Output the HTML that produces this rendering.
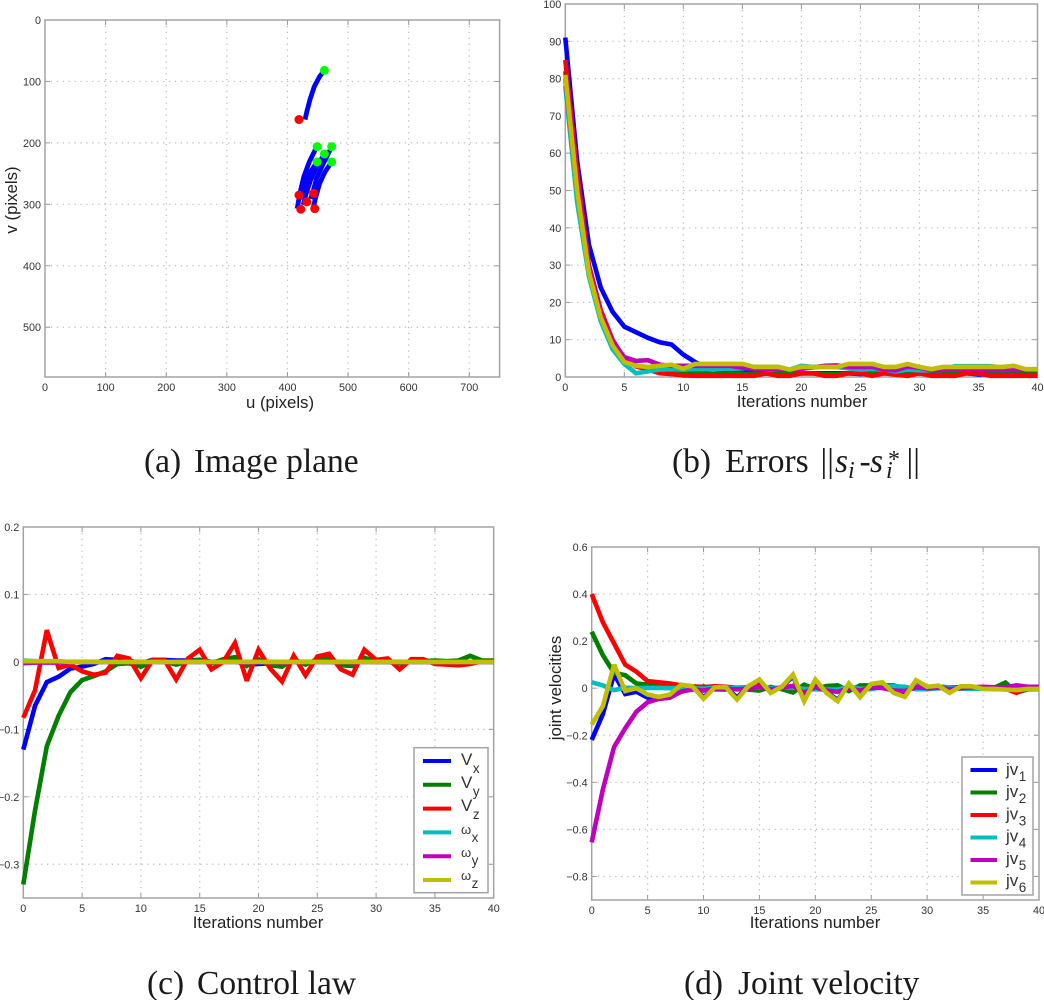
<!DOCTYPE html>
<html lang="en">
<head>
<meta charset="utf-8">
<title>Visual servoing results</title>
<style>
html,body{margin:0;padding:0;background:#fff;}
#figure{display:block;width:1044px;height:1000px;filter:blur(0.35px);}
text{font-family:"Liberation Sans",sans-serif;fill:#333;}
.tick{font-size:10.8px;}
.axis-title{font-size:16.8px;fill:#222;}
.caption{font-family:"Liberation Serif",serif;font-size:33.5px;fill:#1a1a1a;}
.caption tspan{font-family:"Liberation Serif",serif;}
.legend-text{font-size:17px;}
.legend-omega{font-size:13px;}
.legend-sub{font-size:13.5px;}
</style>
</head>
<body>
<svg id="figure" xmlns="http://www.w3.org/2000/svg" width="1044" height="1000" viewBox="0 0 1044 1000">
  <text class="caption" y="472"><tspan x="144">(a)</tspan><tspan x="194">Image plane</tspan></text>
  <text class="caption" y="472"><tspan x="672">(b)</tspan><tspan x="725">Errors</tspan><tspan x="820.5">||</tspan><tspan x="835" font-style="italic">s</tspan><tspan x="848" y="478" font-style="italic" font-size="24">i</tspan><tspan x="859.5" y="472">-</tspan><tspan x="870" font-style="italic">s</tspan><tspan x="886" y="478" font-style="italic" font-size="24">i</tspan><tspan x="888" y="467" font-size="24">*</tspan><tspan x="906.5" y="472">||</tspan></text>
  <text class="caption" y="994"><tspan x="147">(c)</tspan><tspan x="197">Control law</tspan></text>
  <text class="caption" y="994"><tspan x="684">(d)</tspan><tspan x="738">Joint velocity</tspan></text>
</svg>
<script>
// ---------- Panel (a): image plane data ----------
const uTicks = [0,100,200,300,400,500,600,700];
const vTicks = [0,100,200,300,400,500];
const trajU1 = [461,453,444,437,432,429];
const trajV1 = [82,92,109,130,149,162];
const trajU2 = [447,436,427,421,416];
const trajV2 = [209,231,255,280,307];
const trajU3 = [470,458,448,442,438];
const trajV3 = [212,236,258,280,291];
const trajU4 = [461,448,438,431,426];
const trajV4 = [218,239,261,282,301];
const trajU5 = [449,438,431,424,420];
const trajV5 = [231,247,263,280,291];
const trajU6 = [473,462,453,446,442];
const trajV6 = [231,247,266,291,308];
const startU = [461,449,473,461,449,473];
const startV = [82,206,206,218,231,231];
const endU = [419,419,443,432,422,445];
const endV = [162,285,282,296,308,307];

// ---------- Panel (b): errors ----------
const iterTicks = [0,5,10,15,20,25,30,35,40];
const errTicks = [0,10,20,30,40,50,60,70,80,90,100];
const err1 = [91,58,35.5,24,17.5,13.5,12,10.5,9.3,8.7,6,4,2.5,2,1.5,1.2,1.5,1,0.6,1,1,1,1,1,1,0.8,1,1,1,1,1,0.6,1,1,1,0.7,0.7,0.7,1,0.7,0.7];
const err2 = [82,52,29,17,9,4.5,3,2.4,2,1.6,1.2,1,1,0.8,0.8,0.8,0.9,0.9,1,1,1,1,0.8,0.8,1,1,0.9,1,1,1.2,1,1,1,1,1,0.9,0.9,0.9,1,1,1];
const err3 = [85,55,30,18,10,5,2.8,2,1,0.8,0.4,0.3,0.3,0.3,0.3,0.3,0.3,1,0.3,0.3,1,1,0.3,0.3,1,1,0.3,1,0.6,0.3,1,0.3,0.3,0.3,1,1,0.3,0.3,0.3,0.3,0.3];
const err4 = [78,47,27,15,7.5,3.5,1,1.5,2,2.1,2,2.2,2.2,2.2,2.2,2.3,2.7,2.7,2.7,2,3,2.7,2.7,2.7,2.3,2,2.2,2,1.5,2,1.8,1.8,2,2.9,2.9,2.9,2.9,2.5,2.5,2,2];
const err5 = [80,50,29,17,9.5,5.3,4.3,4.5,3.3,3,3,3,3,3,3,2.5,2.2,2.2,2.2,2,2.2,2.6,3,3.1,2.7,2.7,2.7,2,1.8,2.8,2.5,1.8,1.9,2,2,1.9,1.9,1.9,1.9,1.9,1.9];
const err6 = [81,50,28,16,8.5,4,3,2.7,3,3.3,2.2,3.5,3.5,3.5,3.5,3.5,2.7,2.7,2.7,2,2.7,2.7,2.7,2.7,3.5,3.5,3.5,2.7,2.7,3.5,2.7,2.1,2.7,2.7,2.7,2.7,2.7,2.7,3,2.1,2.1];

// ---------- Panel (c): control law ----------
const ctrlTicks = [-0.3,-0.2,-0.1,0,0.1,0.2];
const ctrlVx = [-0.13,-0.065,-0.03,-0.022,-0.01,-0.007,-0.003,0.004,0.003,0.002,-0.002,0.003,0.003,0.002,0.002,0.003,0,0.001,0.001,-0.004,-0.003,-0.002,-0.003,0,0,0,0,-0.001,0,0.001,0,0,0,0,0,0,-0.001,-0.003,0,0,0];
const ctrlVy = [-0.33,-0.22,-0.125,-0.08,-0.045,-0.027,-0.021,-0.014,-0.003,-0.002,-0.007,0.001,0.001,-0.004,0.001,0.003,-0.002,0.004,0.007,-0.006,0.004,-0.005,-0.007,0.004,-0.004,0.004,0.005,-0.005,-0.006,0.006,0.001,0,-0.002,0.001,0.001,0.002,0.001,0.002,0.009,0.002,0.002];
const ctrlVz = [-0.083,-0.042,0.047,-0.009,-0.004,-0.014,-0.019,-0.016,0.009,0.005,-0.024,0.003,0.003,-0.026,0.005,0.018,-0.011,0,0.028,-0.028,0.018,-0.01,-0.029,0.009,-0.02,0.008,0.012,-0.011,-0.019,0.018,0.003,0.005,-0.011,0.004,0.004,-0.003,-0.004,-0.005,-0.003,0.001,0.001];
const ctrlWx = [0.002,0.001,0,0,0,0,0,0,0,0,0,0,0,0,0,0,0,0,0,0,0,0,0,0,0,0,0,0,0,0,0,0,0,0,0,0,0,0,0,0,0];
const ctrlWy = [-0.002,-0.001,-0.001,-0.001,0,0,0,0,0,0,0,0,0,0,0,0,0,0,0,-0.001,0,0,-0.001,0,0,0,0,0,-0.001,0,0,0,0,0,0,0,0,0,0,0,0];
const ctrlWz = [0.001,0.001,0.001,0.001,0,0,0,0,0,0,0,0,0,0,0,0,0,0,0,0,0,0,0,0,0,0,0,0,0,0,0,0,0,0,0,0,0,0,0,0,0];

// ---------- Panel (d): joint velocities ----------
const jvTicks = [-0.8,-0.6,-0.4,-0.2,0,0.2,0.4,0.6];
const jv1 = [-0.22,-0.11,0.06,-0.025,-0.015,-0.04,-0.045,-0.04,0.012,0.008,-0.04,0.004,0.004,-0.04,0.008,0.03,-0.015,0.006,0.05,-0.05,0.03,-0.017,-0.05,0.017,-0.032,0.016,0.022,-0.017,-0.032,0.03,0.005,0.009,-0.017,0.007,0.007,-0.002,-0.003,-0.005,-0.007,-0.003,-0.003];
const jv2 = [0.24,0.14,0.065,0.055,0.02,0.015,0.015,0.01,-0.005,-0.004,0.008,-0.005,-0.006,0,-0.006,-0.01,0.005,-0.004,-0.018,0.015,-0.004,0.009,0.012,-0.012,0.012,0.012,0.012,0.012,-0.002,0.003,0.003,0.006,0.004,0.004,0.004,0.002,0.002,0.024,-0.018,-0.005,-0.004];
const jv3 = [0.4,0.28,0.19,0.1,0.07,0.03,0.025,0.02,0.012,0.008,0.005,0.008,0.006,0.002,0.004,0.012,-0.003,0.004,0.008,-0.005,0.004,-0.006,-0.01,0.003,-0.004,0.004,0.005,-0.004,-0.006,0.005,0.002,0.002,-0.002,0.002,0.002,0,0,-0.002,-0.02,0.006,0.006];
const jv4 = [0.025,0.012,-0.008,0.002,0,0.001,0.001,0,0.001,0,-0.002,0.002,0.002,0,0.002,0.003,0,0.002,0.003,-0.003,-0.005,-0.006,-0.006,0.006,-0.002,-0.004,0.006,0.008,0.006,-0.004,-0.004,0,0.004,-0.002,-0.002,-0.002,0,0,0,0,0];
const jv5 = [-0.655,-0.43,-0.25,-0.17,-0.1,-0.06,-0.045,-0.04,-0.015,-0.005,-0.01,-0.002,-0.002,-0.005,-0.002,0.005,-0.005,0.002,0.01,-0.02,0.005,-0.01,-0.015,-0.002,-0.01,0.002,0.001,-0.01,-0.012,0.004,0,0.002,-0.004,0,0.004,0.006,0.004,0.004,0.012,0.006,0.006];
const jv6 = [-0.155,-0.076,0.1,-0.012,0,-0.027,-0.037,-0.027,0.015,0.008,-0.045,0.004,0.004,-0.048,0.008,0.037,-0.02,0.006,0.058,-0.055,0.037,-0.02,-0.055,0.02,-0.038,0.018,0.025,-0.02,-0.037,0.034,0.006,0.011,-0.02,0.008,0.008,-0.003,-0.003,-0.006,-0.008,-0.003,-0.003];

const ctrlLabels = [['V','x'],['V','y'],['V','z'],['ω','x'],['ω','y'],['ω','z']];
const jvLabels = [['jv','1'],['jv','2'],['jv','3'],['jv','4'],['jv','5'],['jv','6']];
const seriesColors = ['#0000ff','#007f00','#ff0000','#00bfbf','#bf00bf','#bfbf00'];

const SVGNS = 'http://www.w3.org/2000/svg';
const root = document.getElementById('figure');

function make(tag, attrs, parent) {
  const el = document.createElementNS(SVGNS, tag);
  for (const k in attrs) el.setAttribute(k, attrs[k]);
  (parent || root).appendChild(el);
  return el;
}

function linear(d0, d1, p0, p1) {
  return function (v) { return p0 + (v - d0) * (p1 - p0) / (d1 - d0); };
}

function fmt(v) {
  return String(v).replace('-', '\u2212');
}

function drawAxes(panelName, box, x, y, xTicks, yTicks, xTitle, yTitle, xTitlePos, yTitlePos) {
  const g = make('g', {});
  
  

  xTicks.forEach(function (t) {
    const px = x(t);
    if (px > box.l + 1 && px < box.r - 1) {
      const gl = make('line', {x1: px, x2: px, y1: box.t, y2: box.b, stroke: '#bdbdbd', 'stroke-width': 1.2, 'stroke-dasharray': '1.3 4.6'}, g);
      
      
    }
    const t1 = make('line', {x1: px, x2: px, y1: box.b, y2: box.b - 5, stroke: '#999', 'stroke-width': 1}, g);
    
    
    const t2 = make('line', {x1: px, x2: px, y1: box.t, y2: box.t + 5, stroke: '#999', 'stroke-width': 1}, g);
    
    
    const lab = make('text', {x: px, y: box.b + 14, 'text-anchor': 'middle', class: 'tick'}, g);
    
    
    lab.textContent = fmt(t);
  });

  yTicks.forEach(function (t) {
    const py = y(t);
    if (py > box.t + 1 && py < box.b - 1) {
      const gl = make('line', {x1: box.l, x2: box.r, y1: py, y2: py, stroke: '#bdbdbd', 'stroke-width': 1.2, 'stroke-dasharray': '1.3 4.6'}, g);
      
      
    }
    const t1 = make('line', {x1: box.l, x2: box.l + 5, y1: py, y2: py, stroke: '#999', 'stroke-width': 1}, g);
    
    
    const t2 = make('line', {x1: box.r, x2: box.r - 5, y1: py, y2: py, stroke: '#999', 'stroke-width': 1}, g);
    
    
    const lab = make('text', {x: box.l - 4, y: py + 4, 'text-anchor': 'end', class: 'tick'}, g);
    
    
    lab.textContent = fmt(t);
  });

  const frame = make('rect', {x: box.l, y: box.t, width: box.r - box.l, height: box.b - box.t, fill: 'none', stroke: '#a3a3a3', 'stroke-width': 1.5}, g);
  
  

  const xt = make('text', {x: xTitlePos[0], y: xTitlePos[1], 'text-anchor': 'middle', class: 'axis-title'}, g);
  
  
  xt.textContent = xTitle;

  if (yTitle) {
    const yt = make('text', {x: 0, y: 0, 'text-anchor': 'middle', class: 'axis-title', transform: 'translate(' + yTitlePos[0] + ',' + yTitlePos[1] + ') rotate(-90)'}, g);
    
    
    yt.textContent = yTitle;
  }
  return g;
}

function drawSeries(g, xs, ys, x, y, color, width, name) {
  const pts = ys.map(function (v, i) { return x(xs[i]).toFixed(2) + ',' + y(v).toFixed(2); }).join(' ');
  const line = make('polyline', {points: pts, fill: 'none', stroke: color, 'stroke-width': width, 'stroke-linejoin': 'miter', 'stroke-miterlimit': 3}, g);
  
  
}

function drawLegend(g, box, labels, entryY, textY, subDy, lineX0, lineX1, textX) {
  const lg = make('g', {}, g);
  
  
  const bg = make('rect', {x: box.l, y: box.t, width: box.r - box.l, height: box.b - box.t, fill: '#fff', stroke: '#a3a3a3', 'stroke-width': 1.5}, lg);
  
  
  labels.forEach(function (lab, i) {
    const py = entryY(i);
    const sw = make('line', {x1: lineX0, x2: lineX1, y1: py, y2: py, stroke: seriesColors[i], 'stroke-width': 4}, lg);
    
    
    const tx = make('text', {x: textX, y: textY(i), class: 'legend-text'}, lg);
    
    
    const main = make('tspan', {class: lab[0] === 'ω' ? 'legend-omega' : 'legend-text'}, tx);
    main.textContent = lab[0];
    const sub = make('tspan', {class: 'legend-sub', dy: subDy, dx: 0.5}, tx);
    sub.textContent = lab[1];
  });
}

const iters = err1.map(function (_, i) { return i; });

// Panel a
(function () {
  const box = {l: 45, r: 499.6, t: 20, b: 377};
  const x = linear(0, 750, box.l, box.r);
  const y = linear(0, 581, box.t, box.b);
  const g = drawAxes('image-plane-panel', box, x, y, uTicks, vTicks, 'u (pixels)', 'v (pixels)', [280, 408], [17, 200]);
  const paths = [[trajU1, trajV1], [trajU2, trajV2], [trajU3, trajV3], [trajU4, trajV4], [trajU5, trajV5], [trajU6, trajV6]];
  paths.forEach(function (p) {
    drawSeries(g, p[0], p[1], x, y, '#0000ff', 4.8, 'feature-trajectory');
  });
  startU.forEach(function (u, i) {
    const c = make('circle', {cx: x(u), cy: y(startV[i]), r: 4.5, fill: '#00ff00'}, g);
    
    
  });
  endU.forEach(function (u, i) {
    const c = make('circle', {cx: x(u), cy: y(endV[i]), r: 4.5, fill: '#ff0000'}, g);
    
    
  });
})();

// Panel b
(function () {
  const box = {l: 565.3, r: 1037.5, t: 4, b: 377};
  const x = linear(0, 40, box.l, box.r);
  const y = linear(0, 100, box.b, box.t);
  const g = drawAxes('errors-panel', box, x, y, iterTicks, errTicks, 'Iterations number', '', [802, 407], [0, 0]);
  [err1, err2, err3, err4, err5, err6].forEach(function (s, i) {
    drawSeries(g, iters, s, x, y, seriesColors[i], 4.6, 'error-series');
  });
})();

// Panel c
(function () {
  const box = {l: 23.3, r: 493.7, t: 527, b: 898};
  const x = linear(0, 40, box.l, box.r);
  const y = linear(0.2, -0.35, box.t, box.b);
  const g = drawAxes('control-law-panel', box, x, y, iterTicks, ctrlTicks, 'Iterations number', '', [258, 928], [0, 0]);
  [ctrlVx, ctrlVy, ctrlVz, ctrlWx, ctrlWy, ctrlWz].forEach(function (s, i) {
    drawSeries(g, iters, s, x, y, seriesColors[i], 4.6, 'control-series');
  });
  drawLegend(g, {l: 414, r: 488, t: 747.7, b: 892.7}, ctrlLabels, function (i) { return 761 + i * 23.8; }, function (i) { return 765 + i * 23; }, 8, 423, 451, 461);
})();

// Panel d
(function () {
  const box = {l: 591.7, r: 1039, t: 547, b: 900};
  const x = linear(0, 40, box.l, box.r);
  const y = linear(0.6, -0.9, box.t, box.b);
  const g = drawAxes('joint-velocity-panel', box, x, y, iterTicks, jvTicks, 'Iterations number', 'joint velocities', [815, 928], [561, 688]);
  [jv1, jv2, jv3, jv4, jv5, jv6].forEach(function (s, i) {
    drawSeries(g, iters, s, x, y, seriesColors[i], 4.6, 'joint-velocity-series');
  });
  drawLegend(g, {l: 962, r: 1033, t: 757, b: 895}, jvLabels, function (i) { return 770 + i * 22.5; }, function (i) { return 775 + i * 22.2; }, 6, 970.5, 997, 1006);
})();
</script>
</body>
</html>
